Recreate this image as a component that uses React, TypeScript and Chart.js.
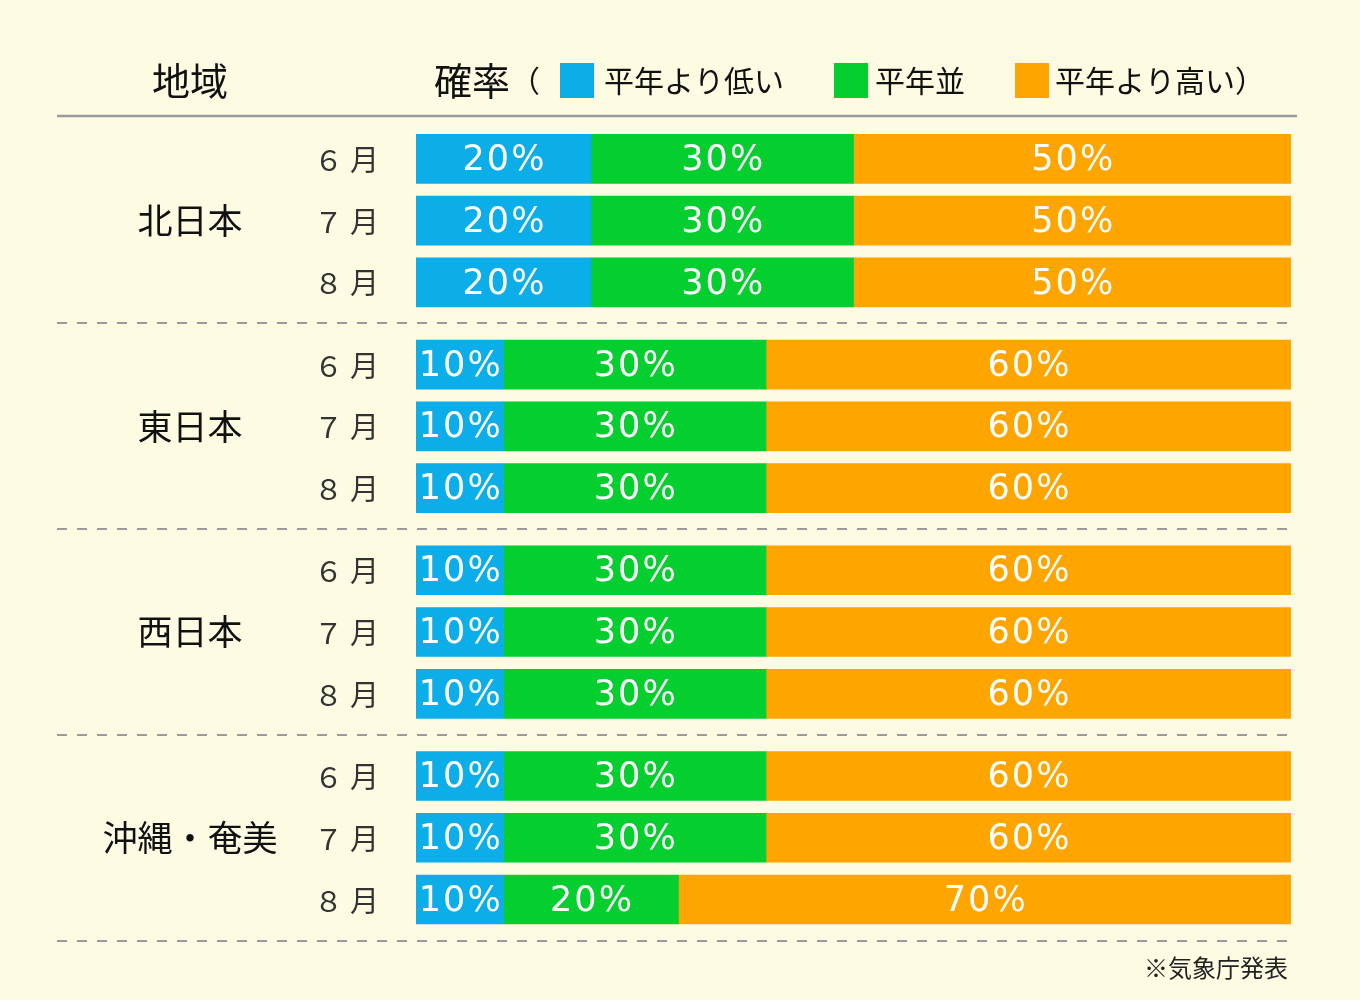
import React, { useEffect, useRef } from "react";
import { Chart, registerables } from "chart.js";

Chart.register(...registerables);

// Forecast probabilities (%) for June–August, by region
const regions = ["北日本", "東日本", "西日本", "沖縄・奄美"];
const months = ["６月", "７月", "８月"];
const belowNormal = [20, 20, 20, 10, 10, 10, 10, 10, 10, 10, 10, 10];
const nearNormal = [30, 30, 30, 30, 30, 30, 30, 30, 30, 30, 30, 20];
const aboveNormal = [50, 50, 50, 60, 60, 60, 60, 60, 60, 60, 60, 70];
const legendLabels = ["平年より低い", "平年並", "平年より高い"];
const source = "※気象庁発表";

const COLORS = ["#0BAEE8", "#05CF2F", "#FFA500"];
const BG = "#FEFBE3";
const GROUP_STEP = 3.33; // rows per region block, including the gap
const JP = '"Noto Sans CJK JP", "Noto Sans", sans-serif';

// slot position of each row on the index axis
const rowPos = (i: number) => Math.floor(i / 3) * GROUP_STEP + (i % 3);

const toPoints = (values: number[]) => values.map((v, i) => ({ x: v, y: rowPos(i) }));

const decorations = {
  id: "decorations",
  afterDraw(chart: any) {
    const { ctx } = chart;
    const yScale = chart.scales.y;
    ctx.save();

    // header
    ctx.fillStyle = "#111";
    ctx.textBaseline = "middle";
    ctx.textAlign = "center";
    ctx.font = `400 38px ${JP}`;
    ctx.fillText("地域", 190, 81);
    ctx.textAlign = "left";
    ctx.fillText("確率", 434, 81);
    ctx.font = `400 30px ${JP}`;
    ctx.fillText("（", 510, 81);

    const legendX = [
      { box: 560, text: 604 },
      { box: 834, text: 875 },
      { box: 1015, text: 1055 },
    ];
    legendLabels.forEach((lbl, i) => {
      ctx.fillStyle = COLORS[i];
      ctx.fillRect(legendX[i].box, 63, 34, 35);
      ctx.fillStyle = "#111";
      ctx.font = `400 30px ${JP}`;
      ctx.fillText(lbl + (i === legendLabels.length - 1 ? "）" : ""), legendX[i].text, 81);
    });

    // header rule
    ctx.strokeStyle = "#9a9a9a";
    ctx.lineWidth = 2.5;
    ctx.beginPath();
    ctx.moveTo(57, 116);
    ctx.lineTo(1297, 116);
    ctx.stroke();

    // region separators
    ctx.setLineDash([10, 10]);
    ctx.lineWidth = 2;
    regions.forEach((_, g) => {
      const y = Math.round(yScale.getPixelForValue(g * GROUP_STEP + 2 + (GROUP_STEP - 2) / 2));
      ctx.beginPath();
      ctx.moveTo(57, y);
      ctx.lineTo(1297, y);
      ctx.stroke();
    });
    ctx.setLineDash([]);

    // region and month labels
    regions.forEach((r, g) => {
      ctx.fillStyle = "#111";
      ctx.textAlign = "center";
      ctx.font = `400 35px ${JP}`;
      ctx.fillText(r, 190, yScale.getPixelForValue(g * GROUP_STEP + 1));
      months.forEach((m, k) => {
        ctx.fillStyle = "#333";
        ctx.textAlign = "right";
        ctx.font = `400 29px ${JP}`;
        ctx.letterSpacing = "7px";
        ctx.fillText(m, 386, yScale.getPixelForValue(g * GROUP_STEP + k) + 1);
        ctx.letterSpacing = "0px";
      });
    });

    // value labels inside the bars
    ctx.fillStyle = "#ffffff";
    ctx.textAlign = "center";
    ctx.font = `400 35px "DejaVu Sans", sans-serif`;
    ctx.letterSpacing = "2px";
    chart.data.datasets.forEach((ds: any, di: number) => {
      const meta = chart.getDatasetMeta(di);
      meta.data.forEach((el: any, idx: number) => {
        const cx = (el.x + el.base) / 2 + 1;
        ctx.fillText(`${ds.data[idx].x}%`, cx, el.y + 2);
      });
    });
    ctx.letterSpacing = "0px";

    // source note
    ctx.fillStyle = "#222";
    ctx.textAlign = "right";
    ctx.font = `400 24px ${JP}`;
    ctx.fillText(source, 1288, 968);

    ctx.restore();
  },
};

export default function App() {
  const canvasRef = useRef<HTMLCanvasElement | null>(null);

  useEffect(() => {
    if (!canvasRef.current) return;
    const chart = new Chart(canvasRef.current, {
      type: "bar",
      data: {
        datasets: [
          { label: legendLabels[0], data: toPoints(belowNormal), backgroundColor: COLORS[0] },
          { label: legendLabels[1], data: toPoints(nearNormal), backgroundColor: COLORS[1] },
          { label: legendLabels[2], data: toPoints(aboveNormal), backgroundColor: COLORS[2] },
        ] as any,
      },
      options: {
        indexAxis: "y",
        responsive: false,
        animation: false,
        devicePixelRatio: 1,
        layout: { padding: { left: 416, right: 69, top: 128, bottom: 69 } },
        datasets: { bar: { barThickness: 49, borderWidth: 0 } },
        scales: {
          x: { type: "linear", stacked: true, min: 0, max: 100, display: false },
          y: {
            type: "linear",
            stacked: true,
            reverse: true,
            offset: false,
            min: -0.5,
            max: 12.5,
            display: false,
          },
        },
        plugins: { legend: { display: false }, tooltip: { enabled: false } },
      } as any,
      plugins: [decorations],
    });
    return () => chart.destroy();
  }, []);

  return (
    <div style={{ position: "absolute", left: 0, top: 0, width: 1360, height: 1000, background: BG }}>
      <canvas ref={canvasRef} width={1360} height={1000} />
    </div>
  );
}
